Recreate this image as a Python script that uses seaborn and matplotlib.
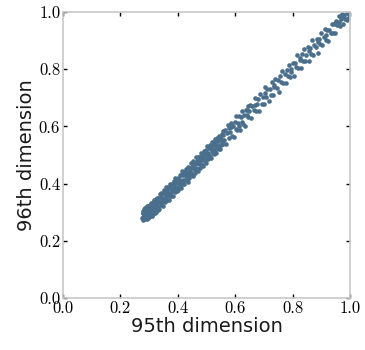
import matplotlib
matplotlib.use("Agg")
import matplotlib.pyplot as plt
import seaborn as sns

# Coordinates of the samples along the 95th and 96th dimensions
x95 = [
    0.276, 0.277, 0.278, 0.279, 0.280, 0.281, 0.282, 0.283, 0.284, 0.285,
    0.286, 0.287, 0.288, 0.289, 0.290, 0.291, 0.292, 0.293, 0.294, 0.295,
    0.296, 0.297, 0.298, 0.299, 0.300, 0.301, 0.302, 0.303, 0.304, 0.305,
    0.306, 0.307, 0.308, 0.309, 0.310, 0.311, 0.312, 0.313, 0.314, 0.315,
    0.316, 0.317, 0.318, 0.319, 0.320, 0.321, 0.322, 0.323, 0.324, 0.325,
    0.326, 0.327, 0.328, 0.329, 0.330, 0.2785, 0.2815, 0.2845, 0.2875, 0.2905,
    0.2935, 0.2965, 0.2995, 0.3025, 0.3055, 0.3085, 0.3115, 0.3145, 0.3175, 0.3205,
    0.331, 0.3325, 0.334, 0.3355, 0.337, 0.3385, 0.340, 0.3415, 0.343, 0.3445,
    0.346, 0.3475, 0.349, 0.3505, 0.352, 0.3535, 0.355, 0.3565, 0.358, 0.3595,
    0.361, 0.3625, 0.364, 0.3655, 0.367, 0.3685, 0.370, 0.3715, 0.373, 0.3745,
    0.376, 0.3775, 0.379, 0.3805, 0.382, 0.3835, 0.385, 0.3865, 0.388, 0.3895,
    0.391, 0.3925, 0.394, 0.3955, 0.397, 0.3985, 0.400, 0.4015, 0.403, 0.4045,
    0.406, 0.4075, 0.409, 0.4105, 0.412, 0.4135, 0.415, 0.4165, 0.418, 0.4195,
    0.421, 0.4225, 0.424, 0.4255, 0.427, 0.4285, 0.430, 0.4315, 0.433, 0.4345,
    0.436, 0.4375, 0.439, 0.4405, 0.442, 0.4435, 0.445, 0.4465, 0.448, 0.4495,
    0.451, 0.4525, 0.454, 0.4555, 0.457, 0.4585, 0.460, 0.4615, 0.463, 0.4645,
    0.466, 0.4675, 0.469, 0.4705, 0.472, 0.4735, 0.475, 0.4765, 0.478, 0.4795,
    0.481, 0.4825, 0.484, 0.4855, 0.487, 0.4885, 0.490, 0.4915, 0.493, 0.4945,
    0.496, 0.4975, 0.499, 0.5005, 0.502, 0.5035, 0.505, 0.5065, 0.508, 0.5095,
    0.511, 0.5125, 0.514, 0.5155, 0.517, 0.5185, 0.520, 0.5215, 0.523, 0.5245,
    0.526, 0.5275, 0.529, 0.5305, 0.532, 0.5335, 0.535, 0.5365, 0.538, 0.5395,
    0.541, 0.5425, 0.544, 0.5455, 0.547, 0.5485, 0.550, 0.5515, 0.553, 0.5545,
    0.556, 0.5575, 0.559,
    0.562, 0.565, 0.568, 0.571, 0.574, 0.577, 0.580, 0.583, 0.586, 0.589,
    0.592, 0.595, 0.598, 0.601, 0.604, 0.607, 0.610, 0.613, 0.616, 0.619,
    0.622, 0.625, 0.628, 0.631, 0.634, 0.637, 0.640, 0.643, 0.646, 0.649,
    0.652, 0.656, 0.660, 0.664, 0.668, 0.672, 0.676, 0.680, 0.684, 0.688,
    0.692, 0.696, 0.700, 0.704, 0.708, 0.712, 0.716, 0.720, 0.724, 0.728,
    0.732, 0.736, 0.740, 0.744, 0.748, 0.752, 0.756, 0.760, 0.764, 0.768,
    0.772, 0.776, 0.780,
    0.784, 0.788, 0.792, 0.796, 0.800, 0.804, 0.808, 0.812, 0.816, 0.820,
    0.824, 0.828, 0.832, 0.836, 0.840, 0.844, 0.848, 0.852, 0.856, 0.860,
    0.864, 0.868, 0.872, 0.876, 0.880, 0.884, 0.888, 0.892, 0.896, 0.900,
    0.904, 0.908, 0.912, 0.916, 0.920, 0.924, 0.928, 0.932, 0.936, 0.940,
    0.944, 0.948, 0.952, 0.956, 0.960, 0.964, 0.968, 0.972, 0.976, 0.980,
    0.984, 0.988, 0.992, 0.995, 0.998, 0.990, 0.975, 0.962,
    0.585, 0.612, 0.641, 0.668, 0.705, 0.735, 0.795, 0.826, 0.858, 0.887,
    0.918, 0.947,
]

y96 = [
    0.280, 0.296, 0.272, 0.305, 0.284, 0.311, 0.289, 0.299, 0.276, 0.306,
    0.316, 0.279, 0.294, 0.309, 0.287, 0.320, 0.276, 0.300, 0.313, 0.286,
    0.322, 0.281, 0.303, 0.292, 0.315, 0.284, 0.326, 0.298, 0.309, 0.288,
    0.320, 0.296, 0.332, 0.287, 0.310, 0.325, 0.301, 0.336, 0.292, 0.314,
    0.330, 0.302, 0.341, 0.317, 0.296, 0.334, 0.309, 0.345, 0.322, 0.301,
    0.337, 0.314, 0.349, 0.326, 0.306, 0.296, 0.279, 0.313, 0.297, 0.300,
    0.281, 0.305, 0.318, 0.292, 0.301, 0.309, 0.289, 0.319, 0.325, 0.318,
    0.349, 0.319, 0.340, 0.3115, 0.364, 0.334, 0.352, 0.3235, 0.3655, 0.3355,
    0.349, 0.3205, 0.3655, 0.3445, 0.376, 0.3385, 0.364, 0.3355, 0.3865, 0.358,
    0.3745, 0.343, 0.3685, 0.355, 0.388, 0.343, 0.385, 0.3685, 0.3985, 0.358,
    0.3835, 0.355, 0.3985, 0.373, 0.3835, 0.355, 0.409, 0.3745, 0.3985, 0.3715,
    0.418, 0.388, 0.409, 0.3745, 0.403, 0.385, 0.4195, 0.3775, 0.412, 0.403,
    0.4285, 0.391, 0.412, 0.3835, 0.4285, 0.4045, 0.4435, 0.397, 0.430, 0.4135,
    0.439, 0.3985, 0.433, 0.4135, 0.4525, 0.4255, 0.4435, 0.4135, 0.4375, 0.406,
    0.457, 0.430, 0.454, 0.418, 0.4435, 0.4285, 0.472, 0.436, 0.4585, 0.430,
    0.457, 0.427, 0.478, 0.451, 0.4735, 0.4375, 0.469, 0.448, 0.4915, 0.4555,
    0.4795, 0.4495, 0.472, 0.4435, 0.493, 0.4675, 0.493, 0.454, 0.4855, 0.4675,
    0.5065, 0.481, 0.496, 0.466, 0.4915, 0.460, 0.5125, 0.4825, 0.508, 0.478,
    0.505, 0.4735, 0.5185, 0.4945, 0.5305, 0.4885, 0.5065, 0.4855, 0.5245, 0.499,
    0.5335, 0.4945, 0.520, 0.4885, 0.5305, 0.5155, 0.5455, 0.508, 0.5335, 0.502,
    0.544, 0.520, 0.556, 0.514, 0.535, 0.508, 0.550, 0.532, 0.559, 0.526,
    0.5485, 0.5215, 0.568, 0.535, 0.5635, 0.520, 0.5545, 0.5365, 0.5725, 0.5485,
    0.5845, 0.5395, 0.5695,
    0.551, 0.586, 0.540, 0.577, 0.605, 0.560, 0.593, 0.579, 0.611, 0.567,
    0.600, 0.564, 0.616, 0.591, 0.638, 0.587, 0.613, 0.637, 0.589, 0.633,
    0.615, 0.654, 0.610, 0.641, 0.602, 0.657, 0.639, 0.670, 0.632, 0.655,
    0.674, 0.631, 0.673, 0.656, 0.700, 0.654, 0.680, 0.697, 0.655, 0.713,
    0.679, 0.704, 0.678, 0.738, 0.704, 0.730, 0.688, 0.731, 0.709, 0.756,
    0.711, 0.739, 0.764, 0.734, 0.763, 0.721, 0.777, 0.754, 0.795, 0.751,
    0.782, 0.751, 0.798,
    0.776, 0.816, 0.772, 0.802, 0.822, 0.775, 0.822, 0.809, 0.848, 0.805,
    0.832, 0.804, 0.852, 0.830, 0.869, 0.827, 0.851, 0.876, 0.828, 0.873,
    0.853, 0.902, 0.851, 0.883, 0.877, 0.905, 0.857, 0.907, 0.888, 0.927,
    0.886, 0.912, 0.940, 0.903, 0.937, 0.899, 0.938, 0.926, 0.958, 0.925,
    0.957, 0.926, 0.970, 0.953, 0.985, 0.950, 0.974, 0.992, 0.959, 0.991,
    0.975, 0.996, 0.980, 0.997, 0.993, 0.972, 0.985, 0.966,
    0.598, 0.602, 0.658, 0.676, 0.716, 0.745, 0.790, 0.840, 0.862, 0.895,
    0.921, 0.962,
]

tick_values = [0.0, 0.2, 0.4, 0.6, 0.8, 1.0]
tick_labels = ["0.0", "0.2", "0.4", "0.6", "0.8", "1.0"]

sns.set_style("white")

fig = plt.figure(figsize=(3.65, 3.5), dpi=100)
ax = fig.add_axes([0.1726, 0.1486, 0.7864, 0.8171])

sns.scatterplot(x=x95, y=y96, color="#4a6f8c", s=11, linewidth=0, ax=ax)

ax.set_xlim(0, 1)
ax.set_ylim(0, 1)
ax.set_xticks(tick_values, labels=tick_labels, fontfamily="cmr10",
              fontsize=12, color="black")
ax.set_yticks(tick_values, labels=tick_labels, fontfamily="cmr10",
              fontsize=12, color="black")
ax.tick_params(direction="in", length=3, width=1, color="black",
               top=True, right=True, bottom=True, left=True, pad=2)

for side in ax.spines.values():
    side.set_color("#c8c8c8")
    side.set_linewidth(1.2)

ax.set_xlabel("95th dimension", fontsize=14, labelpad=1, color="#1a1a1a")
ax.set_ylabel("96th dimension", fontsize=14, labelpad=2, color="#1a1a1a")

fig.savefig("out.png", dpi=100)
